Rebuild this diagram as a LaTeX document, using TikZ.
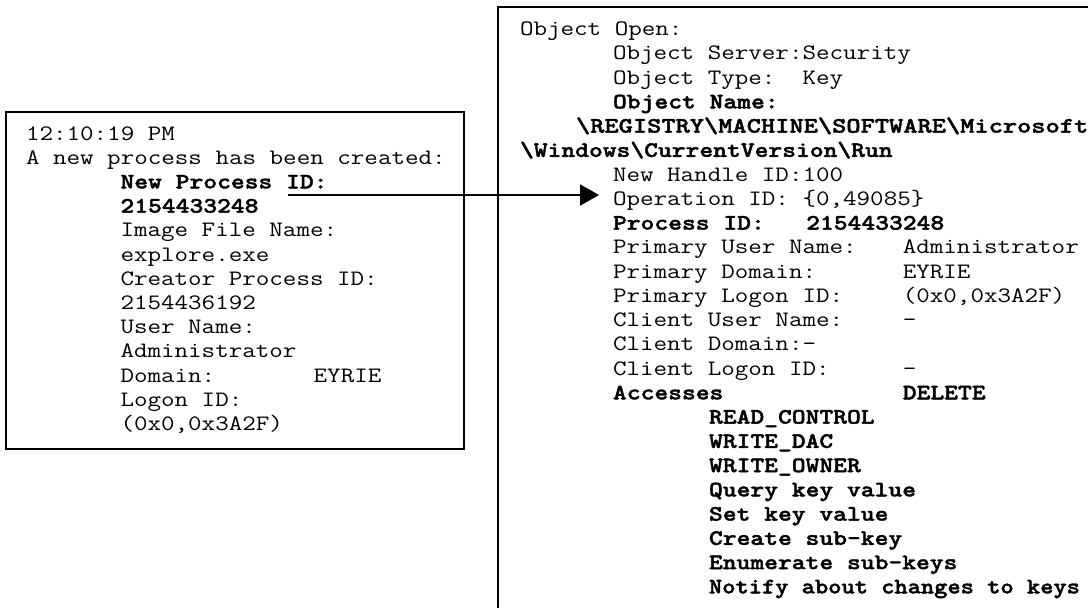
\documentclass[tikz,border=0pt]{standalone}
\usepackage{fontspec}
\usepackage{graphicx}
\newfontfamily\heavymono{lmmonolt10-bold.otf}[FakeBold=1.6]
\usetikzlibrary{arrows.meta}
\newcommand\cw[2][1.195]{\scalebox{#1}[1]{#2}}
\tikzset{
  txt/.style={anchor=base west, inner sep=0pt, outer sep=0pt,
    font=\ttfamily\fontsize{11pt}{12pt}\selectfont},
  btxt/.style={txt, font=\heavymono\fontsize{11pt}{12pt}\selectfont},
  frame/.style={draw=black, line width=1pt},
  conn/.style={draw=black, line width=1pt, -{Triangle[length=9.5pt,width=10.5pt]}}
}
\begin{document}
\begin{tikzpicture}[x=0.5pt,y=-0.5pt]
\clip (0,0) rectangle (1088,607);
\fill[white] (0,0) rectangle (1088,607);
% frames
\draw[frame] (6,111.5) rectangle (464,448.5);
\draw[frame] (497.5,6.7) rectangle (1200,700);
% left box text
\node[txt]  (l0)  at (26,140.0) {\cw{12:10:19 PM}};
\node[txt]  (l1)  at (26,164.2) {\cw{A new process has been created:}};
\node[btxt] (l2)  at (120.5,188.4) {\cw{New Process ID:}};
\node[btxt] (l3)  at (120.5,212.6) {\cw{2154433248}};
\node[txt]  (l4)  at (120.5,236.8) {\cw{Image File Name:}};
\node[txt]  (l5)  at (120.5,261.0) {\cw{explore.exe}};
\node[txt]  (l6)  at (120.5,285.2) {\cw{Creator Process ID:}};
\node[txt]  (l7)  at (120.5,309.4) {\cw{2154436192}};
\node[txt]  (l8)  at (120.5,333.6) {\cw{User Name:}};
\node[txt]  (l9)  at (120.5,357.8) {\cw{Administrator}};
\node[txt]  (l10) at (120.5,382.0) {\cw{Domain:}};
\node[txt]  (l10v) at (313.7,382.0) {\cw{EYRIE}};
\node[txt]  (l11) at (120.5,406.2) {\cw{Logon ID:}};
\node[txt]  (l12) at (120.5,430.4) {\cw{(0x0,0x3A2F)}};
% right box text
\node[txt]  (r0)  at (520,35.6)  {\cw{Object Open:}};
\node[txt]  (r1)  at (613,59.85) {\cw{Object Server:Security}};
\node[txt]  (r2)  at (613,84.1)  {\cw{Object Type:\ \ Key}};
\node[btxt] (r3)  at (613,108.35) {\cw{Object Name:}};
\node[btxt] (r4)  at (576,132.6) {\cw[1.232]{\textbackslash REGISTRY\textbackslash MACHINE\textbackslash SOFTWARE\textbackslash Microsoft}};
\node[btxt] (r5)  at (520,156.85) {\cw{\textbackslash Windows\textbackslash CurrentVersion\textbackslash Run}};
\node[txt]  (r6)  at (613,181.1) {\cw{New Handle ID:100}};
\node[txt]  (r7)  at (613,205.35) {\cw{Operation ID: \{0,49085\}}};
\node[btxt] (r8)  at (613,229.6) {\cw{Process ID:\ \ \ 2154433248}};
\node[txt]  (r9)  at (613,253.85) {\cw{Primary User Name:}};
\node[txt]  (r9v) at (902.8,253.85) {\cw{Administrator}};
\node[txt]  (r10) at (613,278.1) {\cw{Primary Domain:}};
\node[txt]  (r10v) at (902.8,278.1) {\cw{EYRIE}};
\node[txt]  (r11) at (613,302.35) {\cw{Primary Logon ID:}};
\node[txt]  (r11v) at (902.8,302.35) {\cw{(0x0,0x3A2F)}};
\node[txt]  (r12) at (613,326.6) {\cw{Client User Name:}};
\node[txt]  (r12v) at (902.8,326.6) {\cw{-}};
\node[txt]  (r13) at (613,350.85) {\cw{Client Domain:-}};
\node[txt]  (r14) at (613,375.1) {\cw{Client Logon ID:}};
\node[txt]  (r14v) at (902.8,375.1) {\cw{-}};
\node[btxt] (r15) at (613,399.35) {\cw{Accesses}};
\node[btxt] (r15v) at (902.8,399.35) {\cw{DELETE}};
\node[btxt] (r16) at (709,423.6) {\cw{READ\_CONTROL}};
\node[btxt] (r17) at (709,447.85) {\cw{WRITE\_DAC}};
\node[btxt] (r18) at (709,472.1) {\cw{WRITE\_OWNER}};
\node[btxt] (r19) at (709,496.35) {\cw{Query key value}};
\node[btxt] (r20) at (709,520.6) {\cw{Set key value}};
\node[btxt] (r21) at (709,544.85) {\cw{Create sub-key}};
\node[btxt] (r22) at (709,569.1) {\cw{Enumerate sub-keys}};
\node[btxt] (r23) at (709,593.35) {\cw[1.147]{Notify about changes to keys}};
% connector
\coordinate (arrS) at (288,195);
\coordinate (arrE) at (599,195);
\draw[conn] (arrS) -- (arrE);
\end{tikzpicture}
\end{document}
